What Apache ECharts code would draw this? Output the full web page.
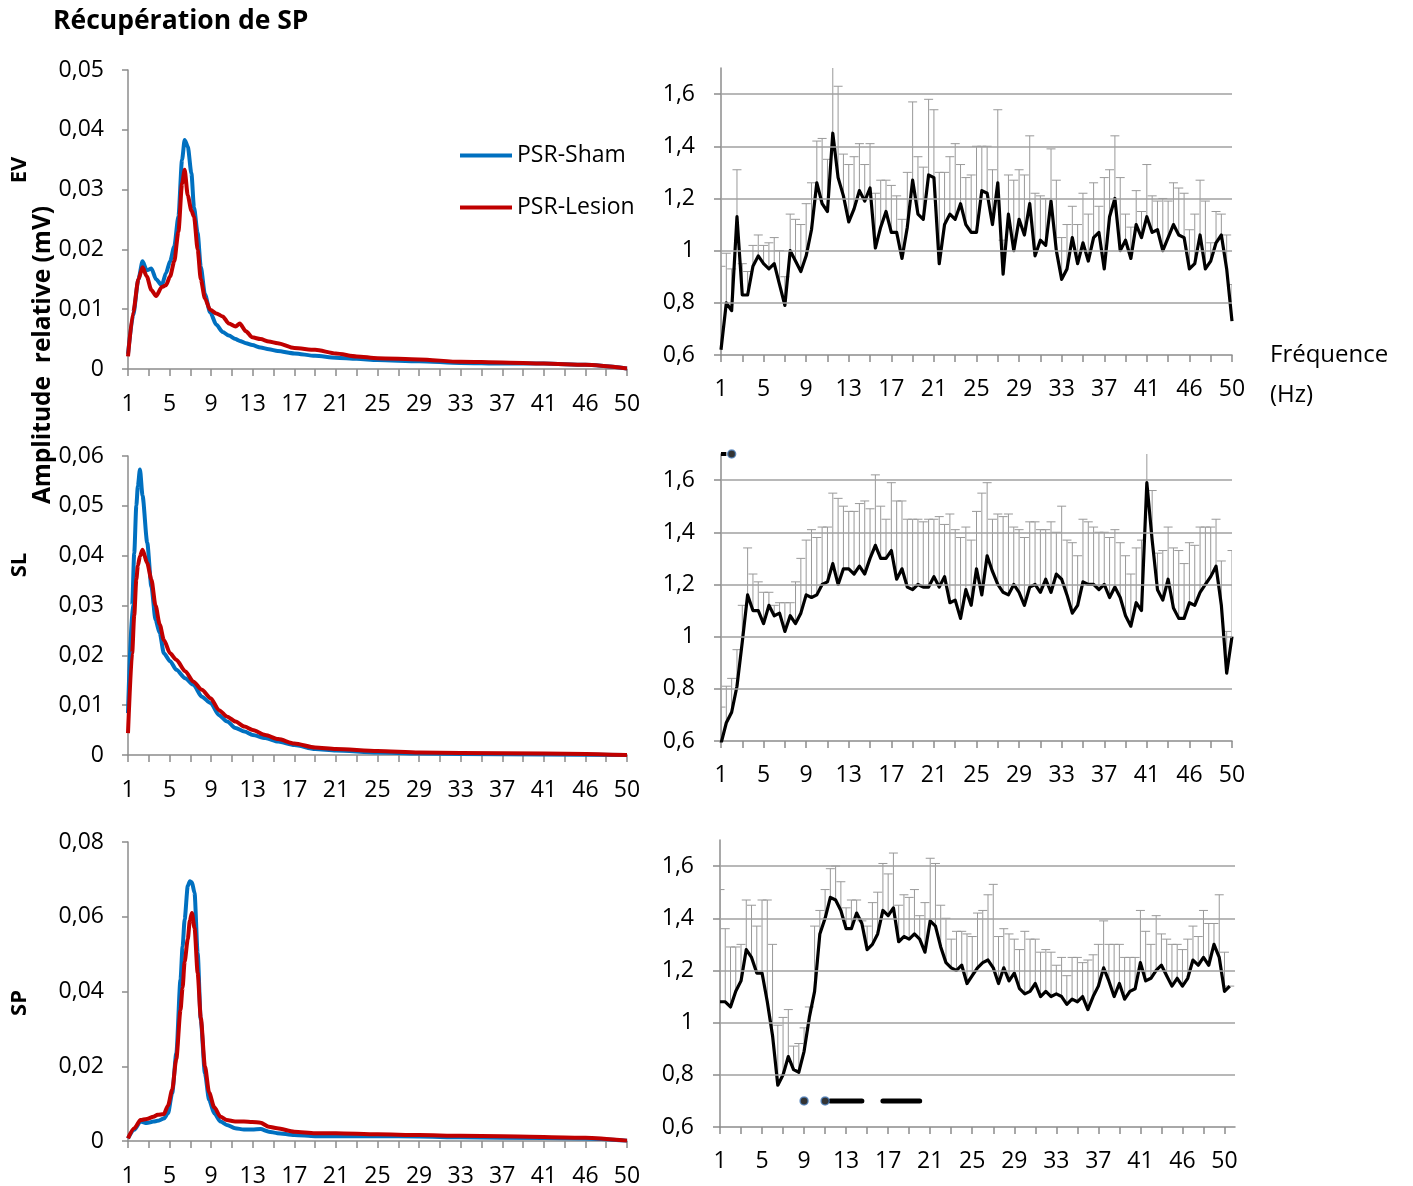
<!DOCTYPE html>
<html><head><meta charset="utf-8">
<script src="https://cdn.jsdelivr.net/npm/echarts@6/dist/echarts.min.js"></script>
<style>html,body{margin:0;padding:0;background:#fff}#c{width:1413px;height:1186px}</style>
</head><body><div id="c"></div>
<script>
// ---------- tick labels (one label every 8 axis steps) ----------
const tickLabels = ['1','5','9','13','17','21','25','29','33','37','41','46','50'];

// ---------- left panels: amplitude spectra (positions in axis steps 0..96) ----------
const evPos = [0,1,2,2.8,3.6,4.5,5.4,6.5,7.3,8.1,8.9,9.7,10.4,10.9,11.5,12.2,12.7,13.4,14,14.8,15.8,17,18.2,19.4,20.7,21.5,22.7,23.9,25.5,27.1,28.8,32,36,40,44,48,56,64,72,80,88,96];
const evSham = [0.0025,0.0090,0.0150,0.0180,0.0165,0.0168,0.0150,0.0140,0.0160,0.0180,0.0205,0.0255,0.0350,0.0383,0.0372,0.0327,0.0270,0.0227,0.0171,0.0125,0.0095,0.0074,0.0062,0.0056,0.0050,0.0047,0.0043,0.0040,0.0036,0.0033,0.0030,0.0026,0.0022,0.0019,0.0017,0.0015,0.0013,0.0010,0.0009,0.0009,0.0007,0.0001];
const evLesion = [0.0021,0.0095,0.0150,0.0170,0.0155,0.0132,0.0122,0.0137,0.0140,0.0155,0.0180,0.0230,0.0310,0.0333,0.0290,0.0265,0.0255,0.0200,0.0150,0.0118,0.0099,0.0093,0.0088,0.0076,0.0071,0.0076,0.0063,0.0053,0.0050,0.0046,0.0043,0.0035,0.0032,0.0026,0.0021,0.0018,0.0016,0.0012,0.0011,0.0009,0.0007,0.0001];

const slPos = [0,0.8,1.2,1.6,1.9,2.3,2.8,3.7,4.5,5.3,6.1,6.9,8.1,9.3,11,12.6,14.2,15.9,17.5,19.1,20.7,22.4,24,26.4,28.9,32,36,40,48,56,64,80,96];
const slSham = [0.0084,0.0300,0.0405,0.0500,0.0540,0.0573,0.0520,0.0426,0.0338,0.0271,0.0245,0.0204,0.0188,0.0171,0.0154,0.0141,0.0117,0.0104,0.0080,0.0067,0.0054,0.0047,0.0040,0.0034,0.0027,0.0020,0.0012,0.0009,0.0005,0.0003,0.0002,0.0001,0.0000];
const slLesion = [0.0044,0.0204,0.0280,0.0352,0.0380,0.0399,0.0412,0.0385,0.0352,0.0300,0.0262,0.0231,0.0204,0.0191,0.0168,0.0147,0.0131,0.0114,0.0090,0.0077,0.0067,0.0057,0.0050,0.0040,0.0032,0.0023,0.0015,0.0012,0.0008,0.0005,0.0004,0.0003,0.0000];

const spPos = [0,1.2,2.4,3.6,4.9,5.7,6.9,7.7,8.5,9.3,10.1,10.5,10.9,11.5,11.9,12.3,12.8,13.4,14,14.8,15.6,16.6,17.8,19,20.6,22.3,23.9,25.5,27.1,28.7,32,36,40,48,56,64,72,88,96];
const spSham = [0.0007,0.0030,0.0052,0.0048,0.0052,0.0054,0.0060,0.0074,0.0128,0.0235,0.0432,0.0520,0.0593,0.0682,0.0695,0.0692,0.0664,0.0503,0.0324,0.0181,0.0110,0.0074,0.0052,0.0043,0.0034,0.0031,0.0031,0.0032,0.0025,0.0021,0.0016,0.0013,0.0013,0.0013,0.0012,0.0010,0.0009,0.0007,0.0001];
const spLesion = [0.0007,0.0034,0.0056,0.0059,0.0065,0.0070,0.0072,0.0095,0.0137,0.0220,0.0350,0.0410,0.0480,0.0540,0.0590,0.0610,0.0570,0.0450,0.0330,0.0200,0.0130,0.0090,0.0065,0.0056,0.0052,0.0052,0.0051,0.0049,0.0038,0.0034,0.0025,0.0021,0.0021,0.0018,0.0016,0.0014,0.0013,0.0009,0.0001];

// ---------- right panels: ratio (Lesion / Sham) and top of error bar ----------
const evRatio = [0.62,0.80,0.77,1.13,0.83,0.83,0.94,0.98,0.95,0.93,0.95,0.87,0.79,1.00,0.96,0.92,0.98,1.08,1.26,1.18,1.15,1.45,1.28,1.21,1.11,1.16,1.23,1.19,1.24,1.01,1.09,1.15,1.07,1.07,0.97,1.09,1.27,1.14,1.12,1.29,1.28,0.95,1.10,1.14,1.12,1.18,1.10,1.07,1.07,1.23,1.22,1.10,1.26,0.91,1.14,1.00,1.12,1.06,1.18,0.98,1.04,1.02,1.19,1.00,0.89,0.93,1.05,0.95,1.03,0.96,1.05,1.07,0.93,1.13,1.20,1.00,1.04,0.97,1.10,1.05,1.13,1.07,1.08,1.00,1.05,1.10,1.06,1.05,0.93,0.95,1.06,0.93,0.96,1.03,1.06,0.93,0.73];
const evErrTop = [0.94,0.99,0.93,1.31,0.95,0.92,1.02,1.06,1.02,1.03,1.05,1.00,0.90,1.14,1.12,1.10,1.18,1.26,1.42,1.43,1.35,1.75,1.63,1.37,1.33,1.36,1.41,1.33,1.41,1.22,1.27,1.27,1.25,1.21,1.12,1.30,1.57,1.36,1.32,1.58,1.54,1.30,1.30,1.36,1.41,1.33,1.28,1.29,1.40,1.40,1.40,1.31,1.54,1.04,1.29,1.27,1.31,1.29,1.44,1.22,1.21,1.20,1.39,1.27,1.05,1.10,1.17,1.10,1.22,1.14,1.26,1.17,1.28,1.31,1.44,1.28,1.14,1.09,1.23,1.15,1.33,1.21,1.19,1.20,1.19,1.26,1.24,1.22,1.08,1.14,1.27,1.19,1.03,1.15,1.14,1.06,0.87];

const slRatio = [0.59,0.67,0.71,0.81,0.98,1.16,1.10,1.10,1.05,1.12,1.08,1.09,1.02,1.08,1.05,1.09,1.16,1.15,1.16,1.20,1.21,1.28,1.20,1.26,1.26,1.24,1.27,1.24,1.30,1.35,1.30,1.30,1.33,1.22,1.26,1.19,1.18,1.20,1.19,1.19,1.23,1.19,1.23,1.13,1.14,1.07,1.18,1.12,1.26,1.16,1.31,1.25,1.20,1.17,1.16,1.20,1.17,1.12,1.19,1.20,1.17,1.22,1.17,1.24,1.22,1.16,1.09,1.12,1.21,1.20,1.20,1.18,1.20,1.15,1.19,1.15,1.08,1.04,1.13,1.10,1.59,1.37,1.18,1.14,1.22,1.11,1.07,1.07,1.13,1.12,1.17,1.20,1.23,1.27,1.12,0.86,1.00];
const slErrTop = [0.73,0.81,0.84,0.95,1.12,1.34,1.24,1.21,1.17,1.17,1.12,1.13,1.13,1.13,1.21,1.30,1.37,1.41,1.38,1.42,1.42,1.55,1.53,1.50,1.48,1.48,1.51,1.52,1.49,1.62,1.50,1.45,1.59,1.52,1.52,1.45,1.45,1.45,1.44,1.45,1.45,1.46,1.43,1.47,1.41,1.38,1.42,1.37,1.48,1.55,1.59,1.45,1.47,1.46,1.47,1.42,1.41,1.38,1.44,1.44,1.41,1.41,1.44,1.40,1.50,1.37,1.36,1.31,1.45,1.44,1.42,1.40,1.40,1.38,1.41,1.36,1.31,1.24,1.34,1.37,1.72,1.56,1.32,1.33,1.42,1.34,1.33,1.28,1.36,1.35,1.42,1.42,1.42,1.45,1.29,1.02,1.33];

const spRatio = [1.08,1.08,1.06,1.12,1.16,1.28,1.25,1.19,1.19,1.08,0.95,0.76,0.80,0.87,0.82,0.81,0.89,1.02,1.12,1.34,1.40,1.48,1.47,1.43,1.36,1.36,1.42,1.38,1.28,1.30,1.34,1.43,1.41,1.44,1.31,1.33,1.32,1.34,1.32,1.27,1.39,1.37,1.29,1.23,1.21,1.20,1.22,1.15,1.18,1.21,1.23,1.24,1.21,1.15,1.21,1.16,1.19,1.13,1.11,1.12,1.15,1.10,1.12,1.10,1.11,1.10,1.07,1.09,1.08,1.10,1.05,1.10,1.14,1.21,1.16,1.10,1.15,1.09,1.12,1.13,1.23,1.16,1.17,1.20,1.22,1.18,1.14,1.17,1.14,1.17,1.24,1.22,1.25,1.22,1.30,1.25,1.12,1.14];
const spErrTop = [1.51,1.36,1.29,1.29,1.30,1.47,1.45,1.37,1.47,1.47,1.30,0.99,1.02,1.05,0.91,0.92,0.98,1.06,1.37,1.43,1.51,1.59,1.60,1.54,1.44,1.47,1.47,1.39,1.37,1.46,1.50,1.61,1.57,1.65,1.45,1.49,1.48,1.51,1.41,1.46,1.63,1.61,1.45,1.40,1.32,1.35,1.35,1.34,1.33,1.42,1.43,1.49,1.53,1.33,1.36,1.34,1.32,1.28,1.35,1.32,1.32,1.27,1.28,1.27,1.22,1.25,1.18,1.25,1.25,1.23,1.24,1.26,1.30,1.39,1.30,1.30,1.30,1.25,1.25,1.25,1.43,1.35,1.30,1.41,1.34,1.32,1.30,1.30,1.28,1.32,1.37,1.33,1.43,1.38,1.38,1.49,1.27,1.14];

// ---------- significance markers ----------
const slSigLevel = 1.7;
const slSigLine = [0, 1];
const slSigDots = [2];
const spSigLevel = 0.7;
const spSigDots = [16, 20];
const spSigSegments = [[21, 27], [31, 38]];

// ---------- y-axis ticks on ratio panels ----------
const ratioTicks = [0.6, 0.8, 1, 1.2, 1.4, 1.6];
const ratioGrid = [0.8, 1, 1.2, 1.4, 1.6];

// ================= build chart =================
const FONT = "'Open Sans', sans-serif";
const AX = '#8c8c8c', GRIDC = '#a0a0a0', ERRC = '#999999';
const BLUE = '#0070C0', RED = '#C00000';
const fmtComma = v => String(parseFloat((+v).toFixed(3))).replace('.', ',');

const chart = echarts.init(document.getElementById('c'), null, {renderer: 'canvas'});

const grids = [
  {left:128, top:70,  width:499, height:299},
  {left:128, top:456, width:499, height:299},
  {left:128, top:842, width:499, height:299},
  {left:721, top:68,  width:511, height:287},
  {left:721, top:454, width:511, height:287},
  {left:720, top:840, width:515, height:287}
].map(g => Object.assign({outerBoundsMode:'none', containLabel:false}, g));

const labelStyle = {color:'#000', fontSize:23, fontFamily:FONT};
const xAxes = [], yAxes = [], series = [];

const leftPanels = [
  {pos:evPos, sham:evSham, lesion:evLesion, max:0.05, step:0.01},
  {pos:slPos, sham:slSham, lesion:slLesion, max:0.06, step:0.01},
  {pos:spPos, sham:spSham, lesion:spLesion, max:0.08, step:0.02}
];
leftPanels.forEach((p, k) => {
  xAxes.push({gridIndex:k, type:'value', min:0, max:96, interval:4,
    axisLine:{show:true, lineStyle:{color:AX, width:1.5}},
    axisTick:{show:true, length:7, lineStyle:{color:AX, width:1.5}},
    axisLabel:Object.assign({margin:24, formatter: v => (v % 8 === 0 ? tickLabels[v / 8] : '')}, labelStyle),
    splitLine:{show:false}});
  yAxes.push({gridIndex:k, type:'value', min:0, max:p.max, interval:p.step,
    axisLine:{show:true, lineStyle:{color:AX, width:1.5}},
    axisTick:{show:true, length:6, lineStyle:{color:AX, width:1.5}},
    axisLabel:Object.assign({margin:24, formatter: fmtComma}, labelStyle),
    splitLine:{show:false}});
  [['PSR-Sham', p.sham, BLUE], ['PSR-Lesion', p.lesion, RED]].forEach(([name, vals, col]) => {
    series.push({name, type:'line', xAxisIndex:k, yAxisIndex:k,
      data: p.pos.map((x, i) => [x, vals[i]]),
      showSymbol:false, symbol:'none', smooth:0.25, smoothMonotone:'x',
      lineStyle:{color:col, width:4, join:'round'}, itemStyle:{color:col},
      silent:true, z:3});
  });
});

function errRender(params, api) {
  const x = api.value(0), lo = api.value(1), hi = api.value(2);
  const p0 = api.coord([x, lo]), p1 = api.coord([x, hi]);
  const half = 4.5;
  const style = {stroke:ERRC, lineWidth:1};
  return {type:'group', children:[
    {type:'line', shape:{x1:p0[0], y1:p0[1], x2:p1[0], y2:p1[1]}, style},
    {type:'line', shape:{x1:p1[0]-half, y1:p1[1], x2:p1[0]+half, y2:p1[1]}, style}
  ]};
}

const rightPanels = [
  {ratio:evRatio, top:evErrTop, n:97},
  {ratio:slRatio, top:slErrTop, n:97},
  {ratio:spRatio, top:spErrTop, n:99}
];
rightPanels.forEach((p, j) => {
  const g = 3 + j;
  const cats = Array.from({length:p.n}, (_, i) => 's' + i);
  xAxes.push({gridIndex:g, type:'category', data:cats, boundaryGap:false,
    axisLine:{show:true, lineStyle:{color:AX, width:1.5}},
    axisTick:{show:true, interval:3, length:7, lineStyle:{color:AX, width:1.5}},
    axisLabel:Object.assign({interval:7, margin:23,
      formatter: (v, i) => (i % 8 === 0 && tickLabels[i / 8] !== undefined ? tickLabels[i / 8] : '')}, labelStyle),
    splitLine:{show:false}});
  yAxes.push({gridIndex:g, type:'value', min:0.6, max:1.7, interval:0.2,
    axisLine:{show:true, lineStyle:{color:AX, width:1.5}},
    axisTick:{show:true, length:7, lineStyle:{color:AX, width:1.5}, customValues:ratioTicks},
    axisLabel:Object.assign({margin:26, customValues:ratioTicks,
      formatter: v => (Math.abs(v - 1.7) < 1e-6 ? '' : fmtComma(v))}, labelStyle),
    splitLine:{show:false}});
  series.push({type:'custom', xAxisIndex:g, yAxisIndex:g, renderItem:errRender, clip:true, silent:true,
    encode:{x:0, y:[1, 2]},
    data: p.ratio.map((v, i) => [i, v, p.top[i]]), z:2,
    markLine:{silent:true, symbol:['none','none'], label:{show:false},
      lineStyle:{color:GRIDC, width:1.6, type:'solid'}, emphasis:{disabled:true},
      data: ratioGrid.map(v => ({yAxis:v}))}});
  series.push({type:'line', xAxisIndex:g, yAxisIndex:g, data:p.ratio, showSymbol:false, symbol:'none',
    lineStyle:{color:'#000', width:3.2, join:'round'}, itemStyle:{color:'#000'}, silent:true, z:4});
});

// significance markers
const sigDot = {type:'scatter', symbol:'circle', symbolSize:8, clip:false, silent:true, z:6,
  itemStyle:{color:'#000', borderColor:'#4F81BD', borderWidth:1.5}};
series.push({type:'line', xAxisIndex:4, yAxisIndex:4, clip:false, silent:true, z:5, showSymbol:false, symbol:'none',
  data: Array.from({length:97}, (_, i) => (slSigLine.includes(i) ? slSigLevel : null)),
  lineStyle:{color:'#000', width:4, cap:'butt'}});
series.push(Object.assign({xAxisIndex:4, yAxisIndex:4, data: slSigDots.map(i => [i, slSigLevel])}, sigDot));
series.push({type:'line', xAxisIndex:5, yAxisIndex:5, clip:false, silent:true, z:5, showSymbol:false, symbol:'none',
  connectNulls:false,
  data: Array.from({length:99}, (_, i) => (spSigSegments.some(([a, b]) => i >= a && i <= b) ? spSigLevel : null)),
  lineStyle:{color:'#000', width:5, cap:'round'}});
series.push(Object.assign({xAxisIndex:5, yAxisIndex:5, data: spSigDots.map(i => [i, spSigLevel])}, sigDot));

const option = {
  animation:false,
  backgroundColor:'#fff',
  textStyle:{fontFamily:FONT},
  grid:grids, xAxis:xAxes, yAxis:yAxes, series,
  legend:{data:['PSR-Sham','PSR-Lesion'], orient:'vertical', left:455, top:139,
    itemWidth:52, itemHeight:4, itemGap:29, icon:'rect', selectedMode:false,
    textStyle:{color:'#000', fontSize:23, fontFamily:FONT}},
  graphic:[
    {type:'text', x:53, y:8, style:{text:'Récupération de SP', font:"bold 26.5px 'Open Sans'", fill:'#000'}},
    {type:'text', x:43, y:355, rotation:Math.PI/2, style:{text:'Amplitude  relative (mV)', font:"bold 24.5px 'Open Sans'", fill:'#000', align:'center', verticalAlign:'middle'}},
    {type:'text', x:20, y:170, rotation:Math.PI/2, style:{text:'EV', font:"bold 22px 'Open Sans'", fill:'#000', align:'center', verticalAlign:'middle'}},
    {type:'text', x:20, y:565, rotation:Math.PI/2, style:{text:'SL', font:"bold 22px 'Open Sans'", fill:'#000', align:'center', verticalAlign:'middle'}},
    {type:'text', x:20, y:1003, rotation:Math.PI/2, style:{text:'SP', font:"bold 22px 'Open Sans'", fill:'#000', align:'center', verticalAlign:'middle'}},
    {type:'text', x:1270, y:355, style:{text:'Fréquence', font:"24px 'Open Sans'", fill:'#000', align:'left', verticalAlign:'middle'}},
    {type:'text', x:1270, y:395, style:{text:'(Hz)', font:"24px 'Open Sans'", fill:'#000', align:'left', verticalAlign:'middle'}}
  ]
};
chart.setOption(option);
</script></body></html>
